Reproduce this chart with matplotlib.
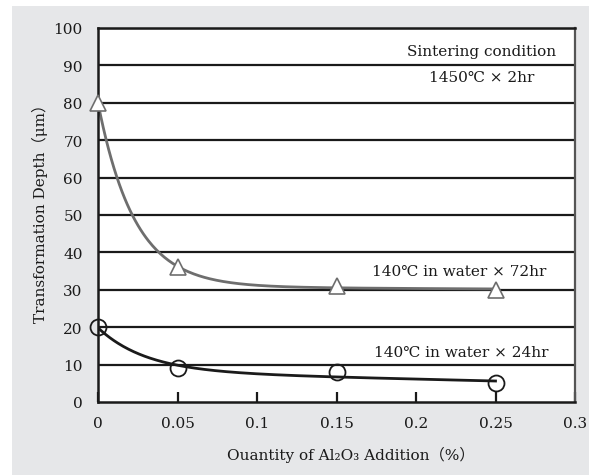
import numpy as np
import matplotlib.pyplot as plt
from matplotlib.patches import Rectangle

# data
x_pts = [0, 0.05, 0.15, 0.25]
depth_72hr = [80, 36, 31, 30]
depth_24hr = [20, 9, 8, 5]
x_ticks = [0, 0.05, 0.1, 0.15, 0.2, 0.25, 0.3]
x_tick_labels = ["0", "0.05", "0.1", "0.15", "0.2", "0.25", "0.3"]
y_ticks = list(range(0, 101, 10))

FONT = ["DejaVu Serif", "Noto Sans CJK JP", "DejaVu Sans"]
plt.rcParams["font.family"] = FONT
FS = 11
INK = "#1a1a1a"


#smooth trend line: y = a + m*x + b*exp(-x/c), least squares for a, m, b
def trend(x, y, c):
    x = np.asarray(x, float)
    y = np.asarray(y, float)
    A = np.column_stack([np.ones_like(x), x, np.exp(-x / c)])
    coef, *_ = np.linalg.lstsq(A, y, rcond=None)
    xs = np.linspace(x.min(), x.max(), 300)
    return xs, coef[0] + coef[1] * xs + coef[2] * np.exp(-xs / c)


fig = plt.figure(figsize=(5.98, 4.77), dpi=100)
fig.patches.append(Rectangle((12 / 598, 1 - 476 / 477), 577 / 598, 469 / 477,
                             transform=fig.transFigure, facecolor="#e6e7e9",
                             edgecolor="none", zorder=-5))
ax = fig.add_axes([98 / 598, 1 - 403 / 477, 477 / 598, 374 / 477])
ax.set_facecolor("white")

for yv in y_ticks[1:]:
    ax.axhline(yv, color=INK, lw=1.6, zorder=1)

xs, ys = trend(x_pts, depth_72hr, 0.023)
ax.plot(xs, ys, color="#6e6e6e", lw=2, zorder=2)
xs, ys = trend(x_pts, depth_24hr, 0.03)
ax.plot(xs, ys, color=INK, lw=2, zorder=2)

ax.plot(x_pts, depth_72hr, ls="none", marker="^", ms=12, mfc="white",
        mec="#6e6e6e", mew=1.2, zorder=3, clip_on=False)
ax.plot(x_pts, depth_24hr, ls="none", marker="o", ms=11.5, mfc="none",
        mec=INK, mew=1.3, zorder=3, clip_on=False)

ax.set_xlim(0, 0.3)
ax.set_ylim(0, 100)
ax.set_xticks(x_ticks)
ax.set_xticklabels(x_tick_labels)
ax.set_yticks(y_ticks)
ax.tick_params(axis="x", direction="in", length=7, width=1.6, pad=10,
               labelsize=FS, colors=INK)
ax.tick_params(axis="y", length=0, pad=11, labelsize=FS, colors=INK)

for side in ["left", "bottom", "top"]:
    ax.spines[side].set_linewidth(1.8)
    ax.spines[side].set_color(INK)
ax.spines["right"].set_linewidth(1.6)
ax.spines["right"].set_color("#555555")

ax.set_ylabel("Transformation Depth（μm）", fontsize=FS, color=INK)
ax.yaxis.set_label_coords(-0.105, 0.516)
ax.set_xlabel("Ouantity of Al₂O₃ Addition（%）", fontsize=FS, color=INK)
ax.xaxis.set_label_coords(0.53, -0.118)

ax.text(0.2415, 93.9, "Sintering condition", ha="center", va="center",
        fontsize=FS, color=INK)
ax.text(0.2412, 86.9, "1450℃ × 2hr", ha="center", va="center",
        fontsize=FS, color=INK)
ax.text(0.2274, 35.0, "140℃ in water × 72hr", ha="center", va="center",
        fontsize=FS, color=INK)
ax.text(0.2286, 13.4, "140℃ in water × 24hr", ha="center", va="center",
        fontsize=FS, color=INK)

fig.savefig("out.png", dpi=100)
